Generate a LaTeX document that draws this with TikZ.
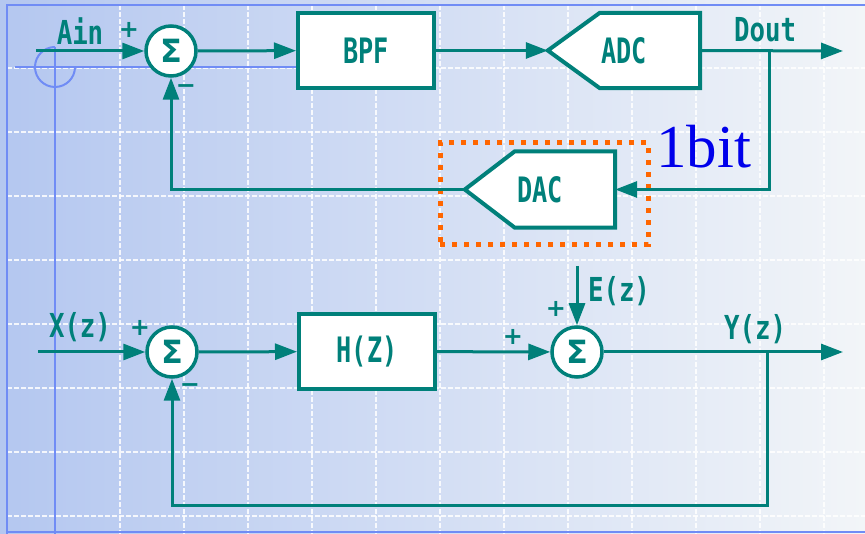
\documentclass[tikz,border=0pt]{standalone}
\usepackage{fontspec}
\usetikzlibrary{arrows.meta,calc}
\setmainfont{Liberation Serif}
\newfontfamily\labfont[FakeStretch=0.78]{DejaVu Sans Mono Bold}
\newfontfamily\boxfont[FakeStretch=0.72]{DejaVu Sans Mono Bold}
\newfontfamily\sigfont{DejaVu Sans Bold}
\newfontfamily\plusfont{DejaVu Sans}
\definecolor{tealc}{RGB}{0,128,122}
\definecolor{bluel}{RGB}{112,140,245}
\definecolor{orangec}{RGB}{255,102,0}
\definecolor{bgl}{RGB}{180,199,240}
\definecolor{bgr}{RGB}{242,245,248}
\definecolor{bit}{RGB}{0,0,235}
\tikzset{
  wire/.style={draw=tealc, line width=3pt},
  arr/.style={wire, -{Triangle[length=22pt,width=16pt]}},
  sumnode/.style={circle, draw=tealc, line width=3.5pt, fill=white, minimum size=50pt, inner sep=0pt, text=tealc, font=\sigfont\fontsize{32}{32}\selectfont},
  blockbox/.style={rectangle, draw=tealc, line width=4pt, fill=white, minimum width=136pt, minimum height=75pt, inner sep=0pt, text=tealc, font=\boxfont\fontsize{35}{35}\selectfont},
  shapebox/.style={rectangle, inner sep=0pt, text=tealc, font=\boxfont\fontsize{35}{35}\selectfont},
  pent/.style={draw=tealc, line width=4pt, fill=white, line join=miter},
  lab/.style={text=tealc, inner sep=0pt, font=\labfont\fontsize{33}{33}\selectfont},
  sign/.style={text=tealc, inner sep=0pt, font=\sigfont\fontsize{24}{24}\selectfont},
  gridl/.style={draw=white, draw opacity=0.85, line width=1.3pt, dash pattern=on 5pt off 2pt},
  bline/.style={draw=bluel, line width=2pt},
}
\begin{document}
\begin{tikzpicture}[x=1pt,y=-1pt]
\useasboundingbox (0,0) rectangle (865,534);
% background
\shade[left color=bgl, right color=bgr] (0,0) rectangle (865,534);
% grid
\foreach \gx in {120,184,248,312,376,440,504,568,632,696,760,824}
  \draw[gridl] (\gx,5) -- (\gx,534);
\foreach \gy in {68,132,196,260,324,388,452,516}
  \draw[gridl] (7,\gy) -- (865,\gy);
% slide guide lines
\draw[bline] (7,534) -- (7,5) -- (865,5);
\draw[bline] (15,67) -- (300,67);
\draw[bline] (55,47) -- (55,534);
\draw[bline] (75,67) arc[start angle=0, end angle=270, radius=20];
\draw[bline] (7,532) -- (865,532);

% ---------- top loop ----------
\node[sumnode] (s1) at (171,51) {Σ};
\node[blockbox] (bpf) at (366,50.5) {BPF};
\node[shapebox, minimum width=152pt, minimum height=75pt] (adc) at (624,50.5) {};
\draw[pent] (adc.west) -- ($(adc.north west)+(52,0)$) -- (adc.north east) -- (adc.south east) -- ($(adc.south west)+(52,0)$) -- cycle;
\node[shapebox] at (adc) {ADC};
\node[shapebox, minimum width=150pt, minimum height=76pt] (dac) at (540,189.5) {};
\draw[pent] (dac.west) -- ($(dac.north west)+(50,0)$) -- (dac.north east) -- (dac.south east) -- ($(dac.south west)+(50,0)$) -- cycle;
\node[shapebox] at (dac) {DAC};
\node[draw=orangec, line width=5pt, dash pattern=on 5pt off 7pt, minimum width=208pt, minimum height=102pt, inner sep=0pt] (hl) at (544,194) {};

\coordinate (ain) at (36,51);
\coordinate (dout) at (843,51);
\coordinate (br1) at (769,51);
\draw[arr] (ain) -- (s1);
\draw[arr] (s1) -- (bpf);
\draw[arr] (bpf) -- (adc.west);
\draw[arr] (adc.east) -- (dout);
\draw[arr, line join=miter] (br1) |- (dac.east);
\draw[arr, line join=miter] (dac.west) -| (s1.south);

\node[lab] (lain) at (80,31) {Ain};
\node[sign] (p1) at (129,30) {+};
\node[sign] (m1) at (186,89) {−};
\node[lab] (ldout) at (765,30) {Dout};
\node[text=bit, inner sep=0pt, anchor=base west, font=\fontsize{61}{61}\selectfont] (lbit) at (656,168) {1bit};

% ---------- bottom loop ----------
\node[sumnode] (s2) at (172,352) {Σ};
\node[blockbox] (hz) at (367,351.5) {H(Z)};
\node[sumnode] (s3) at (577,352) {Σ};
\coordinate (xin) at (38,352);
\coordinate (yout) at (843,352);
\coordinate (ein) at (577,266);
\coordinate (br2) at (767,352);
\draw[arr] (xin) -- (s2);
\draw[arr] (s2) -- (hz);
\draw[arr] (hz) -- (s3);
\draw[arr] (ein) -- (s3);
\draw[arr] (s3) -- (yout);
\draw[arr, line join=miter] (br2) -- (767,505) -| (s2.south);

\node[lab] (lx) at (80,327) {X(z)};
\node[sign] (p2) at (140,328) {+};
\node[sign] (m2) at (190,388) {−};
\node[sign] (p3) at (513,337) {+};
\node[sign] (p4) at (556,309) {+};
\node[lab] (le) at (619,291) {E(z)};
\node[lab] (ly) at (755,329) {Y(z)};
\end{tikzpicture}
\end{document}
